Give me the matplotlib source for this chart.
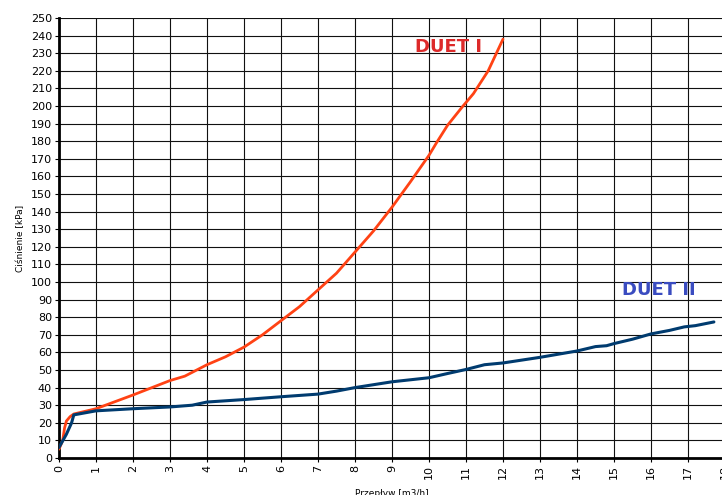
import numpy as np
import matplotlib
matplotlib.use('Agg')
import matplotlib.pyplot as plt

# DUET I (czerwona)
x_duet1 = [0.0, 0.1, 0.15, 0.2, 0.3, 0.4, 1.0, 2.0, 3.0, 3.4, 4.0, 4.5, 5.0, 5.5, 6.0, 6.5, 7.0,
           7.5, 8.0, 8.5, 9.0, 9.5, 10.0, 10.2, 10.5, 10.9, 11.2, 11.6, 12.0]
y_duet1 = [5.0, 10.0, 17.0, 21.0, 23.5, 25.0, 28.0, 35.8, 44.0, 46.5, 53.0, 57.5, 63.0, 70.0, 78.0, 86.0, 95.5,
           105.0, 117.0, 129.0, 142.5, 157.0, 172.0, 179.0, 189.0, 199.5, 207.0, 220.0, 238.0]

# DUET II (granatowa)
x_duet2 = [0.0, 0.2, 0.34, 0.4, 1.0, 2.0, 3.0, 3.6, 4.0, 5.0, 6.0, 7.0, 7.5, 8.0, 9.0, 10.0, 10.5, 11.0,
           11.5, 12.0, 13.0, 14.0, 14.5, 14.8, 15.0, 15.5, 16.0, 16.5, 16.9, 17.2, 17.7]
y_duet2 = [6.0, 13.5, 20.0, 24.5, 26.8, 28.0, 29.0, 30.0, 31.8, 33.2, 34.8, 36.3, 38.0, 40.0, 43.3, 45.6, 48.0, 50.3,
           53.0, 54.0, 57.2, 60.8, 63.3, 63.8, 65.0, 67.5, 70.5, 72.5, 74.5, 75.2, 77.3]

xticks = np.arange(0, 19, 1)
yticks = np.arange(0, 260, 10)

fig = plt.figure(figsize=(7.22, 4.95), dpi=100)
ax = fig.add_axes([59/722, 37/495, 666/722, 440/495])

ax.plot(x_duet1, y_duet1, color='#ff4214', lw=2.0, solid_capstyle='round', zorder=3)
ax.plot(x_duet2, y_duet2, color='#003b6f', lw=2.2, solid_capstyle='round', zorder=3)

ax.set_xlim(0, 18)
ax.set_ylim(0, 250)
ax.set_xticks(xticks)
ax.set_yticks(yticks)
ax.set_xticklabels([str(v) for v in xticks], rotation=90, fontsize=8)
ax.set_yticklabels([str(v) for v in yticks], fontsize=8)
ax.tick_params(length=3, width=0.8, pad=2)
ax.grid(True, color='#111111', lw=0.8)
ax.set_axisbelow(True)

for s in ['top', 'right']:
    ax.spines[s].set_visible(False)
ax.spines['left'].set_linewidth(2)
ax.spines['bottom'].set_linewidth(2)

ax.set_ylabel('Ciśnienie [kPa]', fontsize=6.5, labelpad=4)
ax.set_xlabel('Przepływ [m3/h]', fontsize=6.5, labelpad=7)

ax.text(10.54, 233.5, 'DUET I', color='#dd2a2a', fontsize=13, fontweight='bold',
        ha='center', va='center')
ax.text(16.2, 95.3, 'DUET II', color='#3a4cc0', fontsize=13, fontweight='bold',
        ha='center', va='center')

plt.savefig('out.png', dpi=100)
